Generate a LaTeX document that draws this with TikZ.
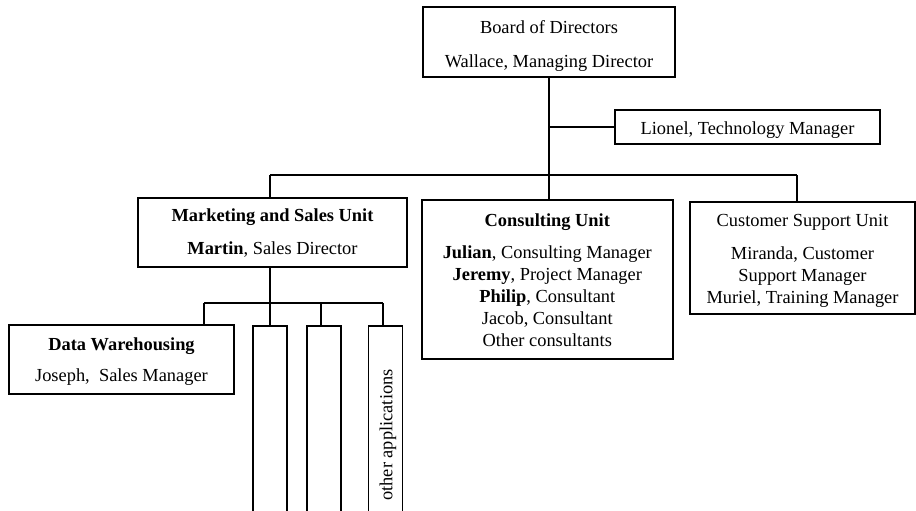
\documentclass[tikz,border=0pt]{standalone}
\usepackage{fontspec}
\setmainfont{Liberation Serif}
% invisible struts that set the height of a first line / depth of a last line
\newcommand{\mytop}[1]{\rule{0pt}{#1pt}}
\newcommand{\mybot}{\rule[-5pt]{0pt}{5pt}}
\begin{document}
\begin{tikzpicture}[x=1pt,y=-1pt,
  box/.style={draw, line width=1.8pt, inner sep=0pt, align=center,
    font=\fontsize{18.4}{22}\selectfont},
  appbox/.style={draw, line width=1.8pt, inner sep=0pt, anchor=north,
    minimum width=34pt, minimum height=215pt},
  link/.style={line width=1.8pt},
  label/.style={inner sep=0pt, font=\fontsize{18.4}{22}\selectfont}]
\useasboundingbox (0,0) rectangle (916,511);

% boxes
\node[box, minimum width=252.6pt, minimum height=70pt] (board) at (549,42.3)
  {\mytop{21.4}Board of Directors\\[13pt]Wallace, Managing Director\mybot};
\node[box, minimum width=265pt, minimum height=34pt] (lionel) at (747.5,127.2)
  {\mytop{19}Lionel, Technology Manager\mybot};
\node[box, minimum width=268.4pt, minimum height=68.4pt] (mkt) at (272.5,232.5)
  {\mytop{16.6}\textbf{Marketing and Sales Unit}\\[11.3pt]\textbf{Martin}, Sales Director\mybot};
\node[box, minimum width=251.3pt, minimum height=159pt] (consult) at (547.3,279.5)
  {\mytop{18.6}\textbf{Consulting Unit}\\[10pt]\textbf{Julian}, Consulting Manager\\
   \textbf{Jeremy}, Project Manager\\\textbf{Philip}, Consultant\\
   Jacob, Consultant\\Other consultants\mybot};
\node[box, minimum width=225pt, minimum height=112.6pt] (cust) at (802.5,258)
  {\mytop{19}Customer Support Unit\\[10.6pt]Miranda, Customer\\Support Manager\\
   Muriel, Training Manager\mybot};
\node[box, minimum width=225pt, minimum height=68.7pt] (dw) at (121.5,359.7)
  {\mytop{17.2}\textbf{Data Warehousing}\\[9pt]Joseph,\ \ Sales Manager\mybot};
\node[appbox] (app1) at (270,325) {};
\node[appbox] (app2) at (324,325) {};
\node[appbox] (app3) at (385.5,325) {};
\node[label, rotate=90] (apptext) at (388,435) {other applications};

% junction points
\coordinate (hub) at (549,175);
\coordinate (busL) at (270,175);
\coordinate (busR) at (797,175);
\coordinate (subhub) at (270,303);
\coordinate (subL) at (204,303);
\coordinate (sub2) at (321,303);
\coordinate (subR) at (383,303);

% connectors
\draw[link] (board.south) -- (hub);
\draw[link] (board.south |- lionel.west) -- (lionel.west);
\draw[link] (busL) -- (busR);
\draw[link] (busL) -- (busL |- mkt.north);
\draw[link] (hub) -- (hub |- consult.north);
\draw[link] (busR) -- (busR |- cust.north);
\draw[link] (subhub |- mkt.south) -- (subhub);
\draw[link] (subL) -- (subR);
\draw[link] (subL) -- (subL |- dw.north);
\draw[link] (subhub) -- (app1.north);
\draw[link] (sub2) -- (sub2 |- app2.north);
\draw[link] (subR) -- (subR |- app3.north);
\end{tikzpicture}
\end{document}
